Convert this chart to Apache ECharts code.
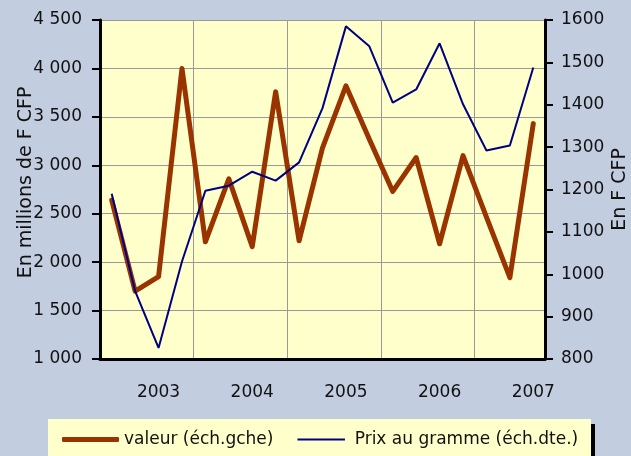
<!DOCTYPE html>
<html>
<head>
<meta charset="utf-8">
<script src="https://cdn.jsdelivr.net/npm/echarts@6/dist/echarts.min.js"></script>
<style>
  html, body { margin: 0; padding: 0; background: #c3cde0; }
  #main { width: 631px; height: 456px; }
</style>
</head>
<body>
<div id="main"></div>
<script>
// trimestres 2003 T1 -> 2007 T3
var quarters = [
  '2003 T1', '2003 T2', '2003 T3', '2003 T4',
  '2004 T1', '2004 T2', '2004 T3', '2004 T4',
  '2005 T1', '2005 T2', '2005 T3', '2005 T4',
  '2006 T1', '2006 T2', '2006 T3', '2006 T4',
  '2007 T1', '2007 T2', '2007 T3'
];
// valeur, en millions de F CFP (échelle gauche)
var valeur = [2640, 1700, 1850, 4000, 2210, 2860, 2160, 3760, 2220, 3180,
  3820, 3270, 2730, 3080, 2190, 3100, 2465, 1840, 3430];
// prix au gramme, en F CFP (échelle droite)
var prix = [1190, 960, 826, 1030, 1197, 1209, 1242, 1221, 1264, 1392,
  1585, 1538, 1405, 1436, 1545, 1401, 1292, 1304, 1488];

var FONT = 'DejaVu Sans';
var chart = echarts.init(document.getElementById('main'));

// icone fine pour la série de droite (boite de 6 de haut, trait de 2.4)
var thinIcon = 'path://M0,0L0.01,0L0,0.01Z M0,1.8L57,1.8L57,4.2L0,4.2Z M0,6L0.01,6L0,5.99Z';

option = {
    backgroundColor: '#c3cde0',
    textStyle: { fontFamily: FONT },
    grid: {
        left: 100, right: 86, top: 20, bottom: 97,
        outerBoundsMode: 'none', containLabel: false,
        show: true, backgroundColor: '#ffffcc', borderWidth: 0
    },
    graphic: [
        { type: 'rect', z: 0, shape: { x: 52, y: 424, width: 543, height: 40 }, style: { fill: '#000' } },
        { type: 'rect', z: 1, shape: { x: 48, y: 419, width: 543, height: 40 }, style: { fill: '#ffffcc' } }
    ],
    legend: {
        left: 57, top: 426, z: 5,
        itemWidth: 57, itemHeight: 5, itemGap: 24,
        textStyle: { fontFamily: FONT, fontSize: 17, color: '#111' },
        data: [
            { name: 'valeur (éch.gche)', icon: 'roundRect' },
            { name: 'Prix au gramme (éch.dte.)', icon: thinIcon }
        ]
    },
    xAxis: {
        type: 'category',
        data: quarters,
        boundaryGap: true,
        axisLine: { lineStyle: { color: '#000', width: 3 } },
        axisTick: { length: 7, lineStyle: { color: '#000', width: 2 },
            interval: function (i) { return i % 4 === 0; } },
        splitLine: { show: true, lineStyle: { color: '#999', width: 1 },
            interval: function (i) { return i % 4 === 0; } },
        axisLabel: {
            interval: function (i) { return i % 4 === 2; },
            margin: 25, fontSize: 17, color: '#111', fontFamily: FONT,
            formatter: function (v) { return v.slice(0, 4); }
        }
    },
    yAxis: [
        {
            type: 'value', min: 1000, max: 4500, interval: 500,
            name: 'En millions de F CFP', nameLocation: 'middle', nameRotate: 90,
            nameGap: 64, nameMoveOverlap: false,
            nameTextStyle: { fontSize: 19, color: '#111', fontFamily: FONT, padding: [0, 0, 0, 14] },
            axisLine: { show: true, lineStyle: { color: '#000', width: 3 } },
            axisTick: { show: true, length: 8, lineStyle: { color: '#000', width: 2 } },
            splitLine: { lineStyle: { color: '#999', width: 1 } },
            axisLabel: {
                margin: 18, fontSize: 17, color: '#111', fontFamily: FONT,
                formatter: function (v) { return String(v).replace(/(\d)(\d{3})$/, '$1 $2'); }
            }
        },
        {
            type: 'value', min: 800, max: 1600, interval: 100,
            name: 'En F CFP', nameLocation: 'middle', nameRotate: 90,
            nameGap: 66, nameMoveOverlap: false,
            nameTextStyle: { fontSize: 19, color: '#111', fontFamily: FONT },
            axisLine: { show: true, lineStyle: { color: '#000', width: 3 } },
            axisTick: { show: true, length: 8, lineStyle: { color: '#000', width: 2 } },
            splitLine: { show: false },
            axisLabel: { margin: 16, fontSize: 17, color: '#111', fontFamily: FONT,
                formatter: function (v) { return String(v); } }
        }
    ],
    series: [
        {
            name: 'valeur (éch.gche)', type: 'line', yAxisIndex: 0,
            data: valeur, symbol: 'none', z: 3,
            lineStyle: { color: '#993300', width: 5, cap: 'round', join: 'round' },
            itemStyle: { color: '#993300' }
        },
        {
            name: 'Prix au gramme (éch.dte.)', type: 'line', yAxisIndex: 1,
            data: prix, symbol: 'none', z: 4,
            lineStyle: { color: '#000080', width: 2 },
            itemStyle: { color: '#000080' }
        }
    ]
};

chart.setOption(option);
</script>
</body>
</html>
